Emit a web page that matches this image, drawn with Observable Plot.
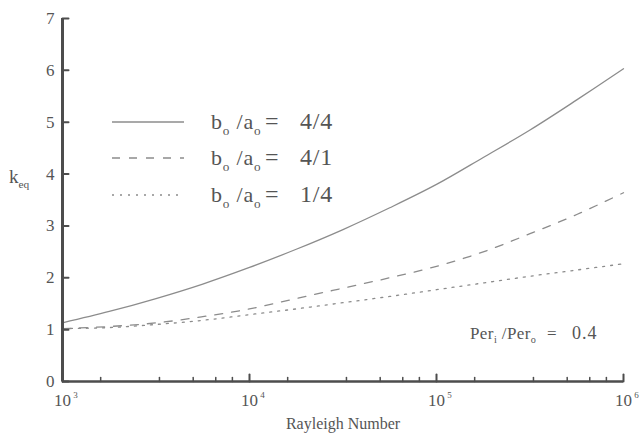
<!DOCTYPE html>
<html>
<head>
<meta charset="utf-8">
<script src="https://cdn.jsdelivr.net/npm/d3@7"></script>
<script src="https://cdn.jsdelivr.net/npm/@observablehq/plot@0.6"></script>
<style>
  body { margin: 0; background: #fff; }
  #wrap { position: relative; width: 640px; height: 436px; }
  #wrap svg.ov { position: absolute; left: 0; top: 0; pointer-events: none; }
</style>
</head>
<body>
<div id="wrap"></div>
<script>
// Rayleigh numbers (x)
const rayleigh = [1000, 1778, 3162, 5623, 10000, 17783, 31623, 56234, 100000, 177828, 316228, 562341, 1000000];
// k_eq series
const k44 = [1.13, 1.35, 1.60, 1.88, 2.20, 2.55, 2.93, 3.35, 3.80, 4.32, 4.85, 5.43, 6.03];
const k41 = [1.02, 1.06, 1.13, 1.25, 1.40, 1.60, 1.80, 2.00, 2.22, 2.50, 2.85, 3.22, 3.64];
const k14 = [1.02, 1.04, 1.10, 1.18, 1.29, 1.40, 1.52, 1.64, 1.77, 1.90, 2.03, 2.15, 2.27];
const seriesNames = ["4/4", "4/1", "1/4"];
const yTicks = [0, 1, 2, 3, 4, 5, 6, 7];
const xMajor = [1000, 10000, 100000, 1000000];
const xExp = ["3", "4", "5", "6"];
const minorMult = [1.6, 3.3, 5, 6.6, 8.1];
const xMinor = [1000, 10000, 100000].flatMap(d => minorMult.map(m => d * m));

const lineColor = "#8c8c8c";
const axisColor = "#4d4d4d";
const textColor = "#555";
const dashes = [null, "8,9", "2,6"];
const allK = [k44, k41, k14];

const rows = allK.flatMap((ks, i) => rayleigh.map((r, j) => ({ra: r, k: ks[j], s: seriesNames[i]})));

const tickShape = { draw(ctx, l) { ctx.moveTo(0, 0); ctx.lineTo(0, -l); } };

const serif = "'Liberation Serif', 'Times New Roman', serif";

const chart = Plot.plot({
  width: 640,
  height: 436,
  marginLeft: 62,
  marginRight: 17,
  marginTop: 18,
  marginBottom: 55,
  style: { fontFamily: serif, background: "#fff", color: textColor },
  x: { type: "log", domain: [1000, 1000000], axis: null },
  y: { domain: [0, 7], axis: null },
  marks: [
    ...seriesNames.map((s, i) => Plot.line(rows.filter(d => d.s === s), {
      x: "ra", y: "k", stroke: lineColor, strokeWidth: 1.3,
      strokeDasharray: dashes[i] ?? undefined, curve: "catmull-rom"
    })),
    // axes lines
    Plot.ruleX([1000], { stroke: axisColor, strokeWidth: 3 }),
    Plot.ruleY([0], { stroke: axisColor, strokeWidth: 2.5 }),
    // y ticks (inward)
    Plot.vector(yTicks, { y: d => d, frameAnchor: "left", rotate: 90, length: 6, anchor: "start", shape: tickShape, stroke: axisColor, strokeWidth: 2 }),
    // x major ticks (inward)
    Plot.vector(xMajor, { x: d => d, frameAnchor: "bottom", rotate: 0, length: 7, anchor: "start", shape: tickShape, stroke: axisColor, strokeWidth: 2 }),
    Plot.vector(xMinor, { x: d => d, frameAnchor: "bottom", rotate: 0, length: 4, anchor: "start", shape: tickShape, stroke: axisColor, strokeWidth: 1.5 }),
    // y tick labels
    Plot.text(yTicks, { y: d => d, frameAnchor: "left", dx: -8, textAnchor: "end", text: d => String(d), fontSize: 17, fill: textColor }),
    // x tick labels
    Plot.text(xMajor, { x: d => d, frameAnchor: "bottom", dy: 24, text: () => "10", fontSize: 17, fill: textColor }),
    Plot.text(xMajor, { x: d => d, frameAnchor: "bottom", dx: 13, dy: 16, text: (d, i) => xExp[i], fontSize: 9, fill: textColor }),
    // x axis label
    Plot.text(["Rayleigh Number"], { frameAnchor: "bottom", dy: 47, text: d => d, fontSize: 16, fill: textColor })
  ]
});

const wrap = document.getElementById("wrap");
wrap.appendChild(chart);

// overlay: legend, annotation, y label (with sub-scripts)
const ns = "http://www.w3.org/2000/svg";
const ov = document.createElementNS(ns, "svg");
ov.setAttribute("class", "ov");
ov.setAttribute("width", 640);
ov.setAttribute("height", 436);
ov.style.fontFamily = serif;
ov.setAttribute("fill", textColor);
wrap.appendChild(ov);

function addText(parts, x, y, size, spacing) {
  const t = document.createElementNS(ns, "text");
  t.setAttribute("x", x);
  t.setAttribute("y", y);
  t.setAttribute("font-size", size);
  t.style.whiteSpace = "pre";
  if (spacing) t.setAttribute("letter-spacing", spacing);
  let inSub = false;
  for (const [str, sub] of parts) {
    const sp = document.createElementNS(ns, "tspan");
    sp.textContent = str;
    if (sub) {
      sp.setAttribute("font-size", size * 0.6);
      sp.setAttribute("dy", inSub ? 0 : size * 0.25);
      inSub = true;
    } else {
      sp.setAttribute("dy", inSub ? -size * 0.25 : 0);
      inSub = false;
    }
    t.appendChild(sp);
  }
  ov.appendChild(t);
  return t;
}

const legendY = [122, 158, 195];
seriesNames.forEach((s, i) => {
  const l = document.createElementNS(ns, "line");
  l.setAttribute("x1", 112); l.setAttribute("x2", 184);
  l.setAttribute("y1", legendY[i]); l.setAttribute("y2", legendY[i]);
  l.setAttribute("stroke", lineColor); l.setAttribute("stroke-width", 1.3);
  if (dashes[i]) l.setAttribute("stroke-dasharray", dashes[i]);
  ov.appendChild(l);
  const by = legendY[i] + 7;
  addText([["b", false], ["o", true], [" /a", false], ["o", true]], 211, by, 22, 0.8);
  addText([["=", false]], 265, by, 24);
  addText([[s, false]], 300, by, 24, 0.8);
});

addText([["Per", false], ["i", true], [" /Per", false], ["o", true]], 470, 339, 17, 0.4);
addText([["=", false]], 547, 339, 17);
addText([["0.4", false]], 572, 339, 18, 1);
addText([["k", false], ["eq", true]], 9, 183, 19);
</script>
</body>
</html>
